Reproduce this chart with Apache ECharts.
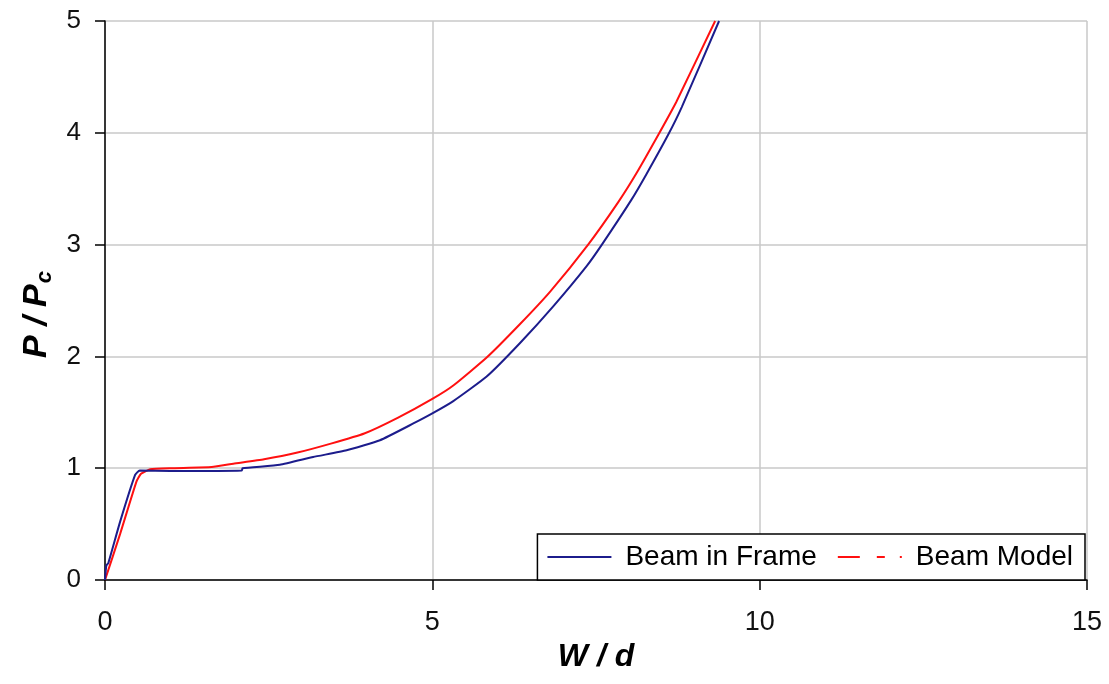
<!DOCTYPE html>
<html>
<head>
<meta charset="utf-8">
<script src="https://cdn.jsdelivr.net/npm/echarts@6/dist/echarts.min.js"></script>
<style>
html,body{margin:0;padding:0;background:#fff;}
#chart{width:1109px;height:684px;}
</style>
</head>
<body>
<div id="chart"></div>
<script>
// Beam in Frame: [W/d, P/Pc]
const beamInFrame = [
  [0,0],[0.02,0.13],[0.05,0.15],[0.23,0.52],[0.46,0.94],[0.53,0.98],[1.0,0.975],
  [2.09,0.98],[2.1,1.0],[2.67,1.03],[3.18,1.10],[3.69,1.16],[4.2,1.25],[4.71,1.40],
  [5.0,1.49],[5.32,1.60],[5.83,1.82],[6.34,2.12],[6.85,2.45],[7.36,2.81],[7.59,3.0],
  [8.04,3.40],[8.27,3.63],[8.60,3.98],[8.81,4.23],[9.38,5.0]
];
// Beam Model: [W/d, P/Pc]
const beamModel = [
  [0,0],[0.23,0.41],[0.48,0.88],[0.55,0.95],[0.69,0.99],[1.0,1.0],[1.63,1.01],
  [1.96,1.04],[2.43,1.08],[2.94,1.14],[3.45,1.22],[3.96,1.31],[4.47,1.45],[5.0,1.62],
  [5.32,1.74],[5.83,1.99],[6.34,2.29],[6.80,2.58],[7.38,3.0],[7.84,3.38],[8.12,3.64],
  [8.45,3.98],[8.73,4.28],[9.32,5.0]
];
const seriesNames = ['Beam in Frame','Beam Model'];
const xTicks = [0,5,10,15];
const yTicks = [0,1,2,3,4,5];

const FONT = 'Liberation Sans, Arial, sans-serif';
const chart = echarts.init(document.getElementById('chart'));
chart.setOption({
  animation:false,
  backgroundColor:'#fff',
  grid:{left:105,right:22,top:21,bottom:104,containLabel:false},
  xAxis:{
    type:'value',min:xTicks[0],max:xTicks[xTicks.length-1],interval:5,
    name:'W / d',nameLocation:'middle',nameGap:60,
    nameTextStyle:{fontFamily:FONT,fontSize:32,fontWeight:'bold',fontStyle:'italic',color:'#000'},
    axisLine:{show:true,onZero:false,lineStyle:{color:'#000',width:1.5}},
    axisTick:{show:true,inside:false,length:10,lineStyle:{color:'#000',width:1.5}},
    axisLabel:{margin:29,fontFamily:FONT,fontSize:27,color:'#111'},
    splitLine:{show:true,lineStyle:{color:'#c8c8c8',width:1.5}}
  },
  yAxis:{
    type:'value',min:yTicks[0],max:yTicks[yTicks.length-1],interval:1,
    name:'{a|P / P}{b|c}',nameLocation:'middle',nameGap:41,nameRotate:90,
    nameTextStyle:{
      rich:{
        a:{fontFamily:FONT,fontSize:34,fontWeight:'bold',fontStyle:'italic',color:'#000'},
        b:{fontFamily:FONT,fontSize:22,fontWeight:'bold',fontStyle:'italic',color:'#000',padding:[16,28,0,1]}
      }
    },
    axisLine:{show:true,onZero:false,lineStyle:{color:'#000',width:1.5}},
    axisTick:{show:true,inside:false,length:10,lineStyle:{color:'#000',width:1.5}},
    axisLabel:{margin:24,fontFamily:FONT,fontSize:26,color:'#111'},
    splitLine:{show:true,lineStyle:{color:'#c8c8c8',width:1.5}}
  },
  legend:{
    show:true,right:24,bottom:104,orient:'horizontal',
    backgroundColor:'#fff',borderColor:'#000',borderWidth:1.5,borderRadius:0,
    padding:[9,12,9,9],itemGap:20,itemWidth:64,itemHeight:20,
    itemStyle:{opacity:0},
    textStyle:{fontFamily:FONT,fontSize:28,color:'#000',padding:[0,0,0,9]},
    data:[
      {name:seriesNames[0],itemStyle:{opacity:0}},
      {name:seriesNames[1],itemStyle:{opacity:0},lineStyle:{type:[22,17,8,15,2,100]}}
    ]
  },
  series:[
    {name:seriesNames[0],type:'line',data:beamInFrame,symbol:'none',showSymbol:false,
     smooth:0.15,
     lineStyle:{color:'#1c1c8c',width:2},itemStyle:{color:'#1c1c8c'},z:3},
    {name:seriesNames[1],type:'line',data:beamModel,symbol:'none',showSymbol:false,
     smooth:0.15,
     lineStyle:{color:'#ff1010',width:2},itemStyle:{color:'#ff1010'},z:2}
  ]
});
</script>
</body>
</html>
